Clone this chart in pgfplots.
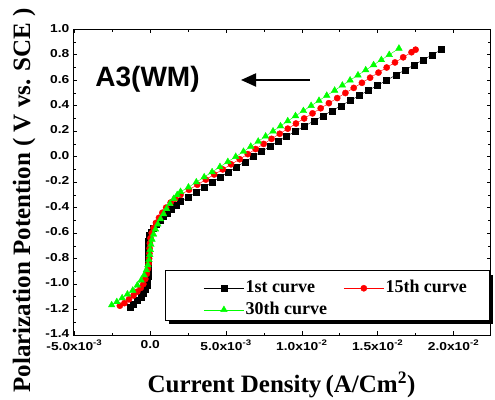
\documentclass[border=0pt]{standalone}
\usepackage{pgfplots}
\pgfplotsset{compat=1.18}
\usetikzlibrary{arrows.meta}
\usepackage{fontspec}
\setmainfont{Liberation Serif}
\setsansfont{Liberation Sans}
\newfontfamily\tickfont{Liberation Sans}[FakeStretch=1.2]
\begin{document}
\begin{tikzpicture}
\begin{axis}[
  scale only axis, width=417.4pt, height=305.7pt,
  xmin=-0.00507, xmax=0.02245, ymin=-1.4, ymax=1.0,
  scaled x ticks=false, scaled y ticks=false,
  xtick={-0.005,0,0.005,0.01,0.015,0.02},
  xticklabels={-5.0x10\textsuperscript{-3},0.0,5.0x10\textsuperscript{-3},1.0x10\textsuperscript{-2},1.5x10\textsuperscript{-2},2.0x10\textsuperscript{-2}},
  minor xtick={-0.0025,0.0025,0.0075,0.0125,0.0175},
  ytick={-1.4,-1.2,-1.0,-0.8,-0.6,-0.4,-0.2,0,0.2,0.4,0.6,0.8,1.0},
  yticklabels={-1.4,-1.2,-1.0,-0.8,-0.6,-0.4,-0.2,0.0,0.2,0.4,0.6,0.8,1.0},
  minor ytick={-1.3,-1.1,-0.9,-0.7,-0.5,-0.3,-0.1,0.1,0.3,0.5,0.7,0.9},
  tick align=inside, major tick length=4pt, minor tick length=2.5pt,
  every tick/.style={black, line width=0.6pt},
  axis line style={line width=0.8pt},
  ticklabel style={font=\tickfont\bfseries\fontsize{11.5}{13}\selectfont},
  yticklabel style={xshift=-0.5pt, yshift=1.2pt},
  xticklabel style={yshift=-1.5pt},
  xlabel={Current Density\,(A/Cm\textsuperscript{2})},
  ylabel={Polarization Potention ( V vs. SCE )},
  label style={font=\bfseries\fontsize{25}{28}\selectfont},
  xlabel style={at={(axis description cs:0.4988,-0.1897)}, anchor=base},
  ylabel style={at={(axis description cs:-0.1037,0.441)}, anchor=base},
  clip=false,
  legend columns=2,
  legend cell align=left,
  legend image code/.code={\draw[mark repeat=2,mark phase=2] plot coordinates {(0pt,0pt) (20pt,0pt) (40pt,0pt)};},
  legend style={draw=none, fill=none, inner sep=0pt,
    at={(rel axis cs:0.312,0.1887)}, anchor=north west,
    font=\bfseries\fontsize{18}{18}\selectfont,
    nodes={text height=12.5pt, text depth=4pt, inner ysep=2.5pt, inner xsep=1.5pt},
    /tikz/every even column/.append style={column sep=15pt}},
]
\coordinate (bl) at (rel axis cs:0,0);
\coordinate (tr) at (rel axis cs:1,1);
\addplot[black, line width=0.4pt, mark=square*, mark size=3pt, mark options={solid, fill=black}] table {
-1.35e-3 -1.18
-1.10e-3 -1.16
-0.85e-3 -1.13
-0.62e-3 -1.10
-0.45e-3 -1.07
-0.32e-3 -1.04
-0.23e-3 -1.01
-0.17e-3 -0.98
-0.13e-3 -0.94
-0.11e-3 -0.90
-0.10e-3 -0.86
-0.10e-3 -0.82
-0.11e-3 -0.78
-0.13e-3 -0.74
-0.15e-3 -0.70
-0.15e-3 -0.66
-0.08e-3 -0.62
0.05e-3 -0.59
0.22e-3 -0.56
0.42e-3 -0.53
0.64e-3 -0.50
0.87e-3 -0.47
1.12e-3 -0.44
1.40e-3 -0.41
1.70e-3 -0.38
2.00e-3 -0.35
2.50e-3 -0.32
3.03e-3 -0.28
3.57e-3 -0.24
4.10e-3 -0.20
4.63e-3 -0.16
5.17e-3 -0.12
5.70e-3 -0.08
6.24e-3 -0.04
6.79e-3 0.00
7.34e-3 0.04
7.89e-3 0.08
8.45e-3 0.12
8.99e-3 0.16
9.58e-3 0.20
10.18e-3 0.24
10.78e-3 0.28
11.38e-3 0.32
11.98e-3 0.36
12.58e-3 0.40
13.18e-3 0.44
13.78e-3 0.48
14.38e-3 0.52
14.99e-3 0.56
15.59e-3 0.60
16.19e-3 0.64
16.79e-3 0.68
17.40e-3 0.72
17.99e-3 0.76
18.60e-3 0.80
19.20e-3 0.84
};
\addlegendentry{1st curve}
\addplot[red, line width=0.4pt, mark=*, mark size=3.1pt, mark options={solid, fill=red}] table {
-2.00e-3 -1.17
-1.70e-3 -1.15
-1.40e-3 -1.12
-1.10e-3 -1.09
-0.85e-3 -1.06
-0.62e-3 -1.03
-0.45e-3 -1.00
-0.32e-3 -0.96
-0.22e-3 -0.92
-0.15e-3 -0.88
-0.10e-3 -0.84
-0.07e-3 -0.80
-0.05e-3 -0.76
-0.04e-3 -0.72
-0.02e-3 -0.68
0.02e-3 -0.64
0.10e-3 -0.60
0.22e-3 -0.56
0.38e-3 -0.52
0.58e-3 -0.48
0.80e-3 -0.44
1.05e-3 -0.40
1.35e-3 -0.36
1.65e-3 -0.33
2.00e-3 -0.30
2.56e-3 -0.26
3.11e-3 -0.22
3.67e-3 -0.18
4.22e-3 -0.14
4.78e-3 -0.10
5.33e-3 -0.06
5.90e-3 -0.02
6.43e-3 0.02
6.95e-3 0.06
7.48e-3 0.10
8.00e-3 0.14
8.54e-3 0.18
9.07e-3 0.22
9.61e-3 0.26
10.15e-3 0.30
10.70e-3 0.34
11.24e-3 0.38
11.78e-3 0.42
12.33e-3 0.46
12.87e-3 0.50
13.42e-3 0.54
13.96e-3 0.58
14.50e-3 0.62
15.05e-3 0.66
15.59e-3 0.70
16.14e-3 0.74
16.68e-3 0.78
17.23e-3 0.82
17.50e-3 0.84
};
\addlegendentry{15th curve}
\addplot[green, line width=0.4pt, mark=triangle*, mark size=3.8pt, mark options={solid, fill=green}] table {
-2.54e-3 -1.165
-2.20e-3 -1.14
-1.85e-3 -1.11
-1.50e-3 -1.08
-1.15e-3 -1.05
-0.85e-3 -1.01
-0.60e-3 -0.97
-0.40e-3 -0.93
-0.25e-3 -0.89
-0.15e-3 -0.85
-0.08e-3 -0.81
-0.03e-3 -0.77
0.00e-3 -0.73
0.05e-3 -0.69
0.12e-3 -0.65
0.22e-3 -0.61
0.35e-3 -0.57
0.50e-3 -0.53
0.68e-3 -0.49
0.88e-3 -0.45
1.08e-3 -0.41
1.30e-3 -0.37
1.55e-3 -0.33
1.78e-3 -0.30
2.00e-3 -0.275
2.52e-3 -0.24
3.04e-3 -0.20
3.56e-3 -0.16
4.08e-3 -0.12
4.60e-3 -0.08
5.12e-3 -0.04
5.64e-3 0.00
6.15e-3 0.04
6.63e-3 0.08
7.12e-3 0.12
7.61e-3 0.16
8.10e-3 0.20
8.59e-3 0.24
9.07e-3 0.28
9.58e-3 0.32
10.10e-3 0.36
10.61e-3 0.40
11.13e-3 0.44
11.64e-3 0.48
12.16e-3 0.52
12.67e-3 0.56
13.18e-3 0.60
13.70e-3 0.64
14.21e-3 0.68
14.73e-3 0.72
15.24e-3 0.76
15.76e-3 0.80
16.40e-3 0.85
};
\addlegendentry{30th curve}
\fill[black] (rel axis cs:0.2293,0.036) rectangle (rel axis cs:1.0055,0.197);
\draw[fill=white, line width=0.8pt] (rel axis cs:0.2197,0.049) rectangle (rel axis cs:0.9959,0.2103);
\node[font=\sffamily\bfseries\fontsize{28}{30}\selectfont, anchor=base] at (rel axis cs:0.1778,0.8113) {A3(WM)};
\draw[line width=2pt, -{Triangle[length=15pt,width=13pt]}] (rel axis cs:0.567,0.8342) -- (rel axis cs:0.4018,0.8342);
\end{axis}
\pgfresetboundingbox
\path ([xshift=-73.3pt,yshift=-64pt]bl) rectangle ([xshift=4.3pt,yshift=29.3pt]tr);
\end{tikzpicture}
\end{document}
